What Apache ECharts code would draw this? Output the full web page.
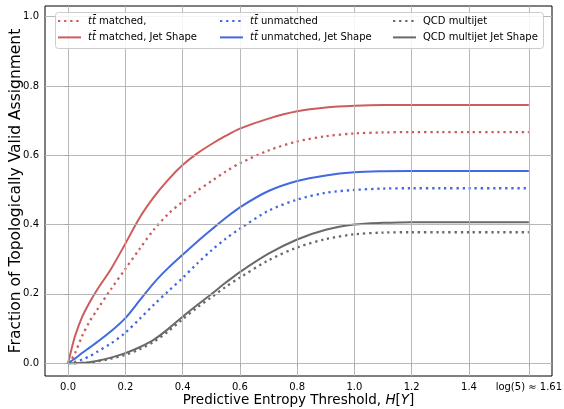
<!DOCTYPE html>
<html><head><meta charset="utf-8">
<script src="https://cdn.jsdelivr.net/npm/echarts@6/dist/echarts.min.js"></script>
<style>html,body{margin:0;padding:0;background:#fff}#c{width:564px;height:409px}</style>
</head><body><div id="c"></div>
<script>
// ---- data ----
const xs            = [0, 0.0125, 0.025, 0.05, 0.075, 0.1, 0.15, 0.2, 0.25, 0.3, 0.35, 0.4, 0.45, 0.5, 0.55, 0.6, 0.7, 0.8, 0.9, 1.0, 1.1, 1.2, 1.3, 1.4, 1.5, 1.609];
const matched       = [0, 0.012, 0.03, 0.08, 0.12, 0.152, 0.214, 0.272, 0.33, 0.386, 0.431, 0.466, 0.497, 0.525, 0.553, 0.577, 0.614, 0.640, 0.655, 0.663, 0.666, 0.667, 0.667, 0.667, 0.667, 0.667];
const matchedJS     = [0, 0.042, 0.08, 0.135, 0.175, 0.21, 0.272, 0.345, 0.42, 0.48, 0.53, 0.572, 0.605, 0.632, 0.656, 0.677, 0.706, 0.727, 0.738, 0.743, 0.745, 0.745, 0.745, 0.745, 0.745, 0.745];
const unmatched     = [0, 0.002, 0.004, 0.011, 0.02, 0.032, 0.057, 0.088, 0.128, 0.169, 0.208, 0.246, 0.287, 0.325, 0.359, 0.388, 0.44, 0.472, 0.492, 0.500, 0.504, 0.505, 0.505, 0.505, 0.505, 0.505];
const unmatchedJS   = [0, 0.007, 0.014, 0.03, 0.045, 0.06, 0.092, 0.13, 0.181, 0.232, 0.275, 0.313, 0.35, 0.385, 0.419, 0.45, 0.497, 0.526, 0.542, 0.551, 0.554, 0.555, 0.555, 0.555, 0.555, 0.555];
const qcd           = [0, 0, 0, 0.001, 0.002, 0.005, 0.013, 0.024, 0.04, 0.062, 0.092, 0.127, 0.16, 0.19, 0.22, 0.247, 0.297, 0.334, 0.358, 0.372, 0.377, 0.378, 0.378, 0.378, 0.378, 0.378];
const qcdJS         = [0, 0, 0, 0.001, 0.003, 0.006, 0.016, 0.029, 0.046, 0.068, 0.099, 0.134, 0.167, 0.199, 0.232, 0.263, 0.316, 0.357, 0.385, 0.400, 0.405, 0.407, 0.407, 0.407, 0.407, 0.407];
const xTicks        = [0, 0.2, 0.4, 0.6, 0.8, 1.0, 1.2, 1.4, 1.609];
const xTickLabels   = ['0.0', '0.2', '0.4', '0.6', '0.8', '1.0', '1.2', '1.4', 'log(5) \u2248 1.61'];
const yTicks        = [0, 0.2, 0.4, 0.6, 0.8, 1.0];
const yTickLabels   = ['0.0', '0.2', '0.4', '0.6', '0.8', '1.0'];
const legendLabels  = {
  matched: '{i|t}{i|t\u0304} matched,',
  matchedJS: '{i|t}{i|t\u0304} matched, Jet Shape',
  unmatched: '{i|t}{i|t\u0304} unmatched',
  unmatchedJS: '{i|t}{i|t\u0304} unmatched, Jet Shape',
  qcd: 'QCD multijet',
  qcdJS: 'QCD multijet Jet Shape'
};

const FONT = 'DejaVu Sans';
const RED = '#cd5c5c', BLUE = '#4169e1', GRAY = '#696969';
const GRID = '#b0b0b0';
const pairs = arr => xs.map((x, i) => [x, arr[i]]);

function lineSeries(name, arr, color, dotted) {
  return {
    name, type: 'line', data: pairs(arr), symbol: 'none', showSymbol: false, smooth: 0.3, z: 3,
    lineStyle: dotted ? { color, width: 2.3, type: [2.3, 3.8], cap: 'butt' } : { color, width: 2 },
    itemStyle: { color }
  };
}

const chart = echarts.init(document.getElementById('c'), null, { renderer: 'canvas' });
const richItalic = { i: { fontStyle: 'italic', fontFamily: FONT, fontSize: 10, color: '#000' } };
function legend(names, left) {
  return {
    data: names, left, top: 16, orient: 'vertical', padding: 0,
    itemWidth: 23, itemHeight: 10, itemGap: 6.4, z: 12,
    itemStyle: { opacity: 0 },
    textStyle: { fontFamily: FONT, fontSize: 10, color: '#000', padding: [0, 0, 0, 2], rich: richItalic },
    formatter: n => legendLabels[n]
  };
}

chart.setOption({
  animation: false,
  backgroundColor: '#fff',
  grid: { left: 45, right: 12, top: 6, bottom: 33, containLabel: false, outerBoundsMode: 'none',
          show: true, borderColor: '#000', borderWidth: 1, backgroundColor: 'transparent' },
  xAxis: {
    type: 'value', min: -0.0805, max: 1.6899,
    axisLine: { show: false },
    splitLine: { show: false },
    axisTick: { show: true, customValues: xTicks, length: 3.5, inside: false, lineStyle: { color: '#000', width: 0.8 } },
    axisLabel: {
      customValues: xTicks, margin: 6, fontFamily: FONT, fontSize: 10, color: '#000',
      formatter: v => { const k = xTicks.findIndex(t => Math.abs(t - v) < 1e-6); return k >= 0 ? xTickLabels[k] : ''; }
    },
    name: 'Predictive Entropy Threshold, {i|H}[{i|Y}]', nameLocation: 'middle', nameGap: 17, nameMoveOverlap: false,
    nameTextStyle: { fontFamily: FONT, fontSize: 13.5, color: '#000', rich: { i: { fontStyle: 'italic', fontFamily: FONT, fontSize: 13.5, color: '#000' } } }
  },
  yAxis: {
    type: 'value', min: -0.037, max: 1.031,
    axisLine: { show: false },
    splitLine: { show: false },
    axisTick: { show: true, customValues: yTicks, length: 3.5, lineStyle: { color: '#000', width: 0.8 } },
    axisLabel: {
      customValues: yTicks, margin: 6, fontFamily: FONT, fontSize: 10, color: '#000',
      formatter: v => { const k = yTicks.findIndex(t => Math.abs(t - v) < 1e-6); return k >= 0 ? yTickLabels[k] : ''; }
    },
    name: 'Fraction of Topologically Valid Assignment', nameLocation: 'middle', nameGap: 21, nameRotate: 90, nameMoveOverlap: false,
    nameTextStyle: { fontFamily: FONT, fontSize: 15.5, color: '#000' }
  },
  legend: [
    legend(['matched', 'matchedJS'], 57),
    legend(['unmatched', 'unmatchedJS'], 219),
    legend(['qcd', 'qcdJS'], 392)
  ],
  graphic: [{
    type: 'rect', left: 55, top: 12, z: 11,
    shape: { width: 488, height: 36, r: 3 },
    style: { fill: 'rgba(255,255,255,0.85)', stroke: '#cccccc', lineWidth: 1 }
  }],
  series: [
    {
      name: 'gridlines', type: 'line', data: [], z: 1, silent: true,
      markLine: {
        silent: true, symbol: 'none', animation: false,
        label: { show: false },
        lineStyle: { color: GRID, width: 0.9, type: 'solid' },
        data: xTicks.map(v => ({ xAxis: v })).concat(yTicks.map(v => ({ yAxis: v })))
      }
    },
    lineSeries('matchedJS', matchedJS, RED, false),
    lineSeries('matched', matched, RED, true),
    lineSeries('unmatchedJS', unmatchedJS, BLUE, false),
    lineSeries('unmatched', unmatched, BLUE, true),
    lineSeries('qcdJS', qcdJS, GRAY, false),
    lineSeries('qcd', qcd, GRAY, true)
  ]
});
</script></body></html>
